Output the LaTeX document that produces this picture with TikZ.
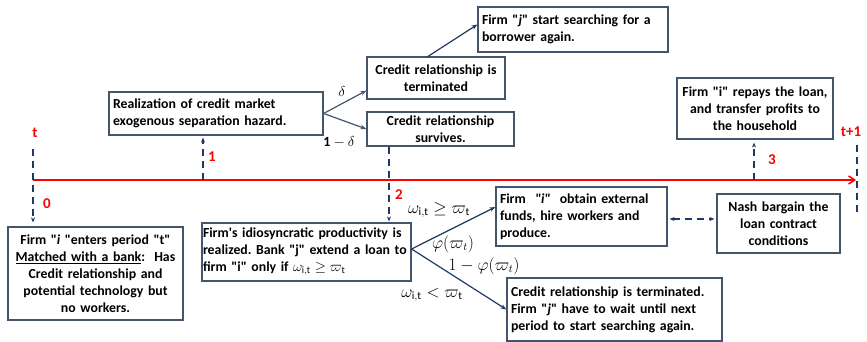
\documentclass[tikz,border=0pt]{standalone}
\usepackage{amsmath, amssymb}
\usepackage{fontspec}
\setmainfont{Carlito}[Ligatures=TeXOff]
\usetikzlibrary{positioning, arrows.meta, calc}
\definecolor{SlateBox}{HTML}{44546A}
\definecolor{NavyArr}{HTML}{1F3864}
\frenchspacing

\begin{document}
\begin{tikzpicture}[
  x=1pt, y=-1pt,
  tbox/.style={draw=SlateBox, line width=1.2pt, fill=white, align=center,
               font=\fontsize{13.8}{17}\selectfont\bfseries, inner xsep=4pt, inner ysep=2pt},
  tboxl/.style={tbox, align=left},
  dasharr/.style={-{Stealth[length=5pt, width=4pt]}, NavyArr, line width=1.6pt,
                  dash pattern=on 7pt off 5pt},
  dashline/.style={NavyArr, line width=1.6pt, dash pattern=on 7pt off 5pt},
  brarr/.style={-{Stealth[length=6pt]}, SlateBox, line width=1.2pt},
  nvarr/.style={-{Stealth[length=6pt]}, NavyArr, line width=1.2pt},
  tlab/.style={text=red, font=\fontsize{15}{15}\selectfont\bfseries, inner sep=1pt},
  mlab/.style={font=\fontsize{16}{16}\selectfont, inner sep=1pt},
  slab/.style={font=\fontsize{14}{14}\selectfont, inner sep=1pt},
]
  \useasboundingbox (0,0) rectangle (867,342);

  % time line
  \coordinate (t0) at (33,180);
  \coordinate (t1) at (856,180);
  \draw[red, line width=1.5pt, -{Straight Barb[length=6pt, width=8pt]}] (t0) -- (t1);
  \node[tlab] (tlabel) at (35,133) {t};
  \node[tlab] (t1label) at (851,132) {t+1};
  \coordinate (tend) at (857,145);
  \draw[dashline] (tend) -- ++(0,68);

  % period start
  \node[tbox, text width=167pt, minimum height=93pt] (enter) at (95.5,273.5)
    {Firm "\textit{i} "enters period "t"\\
     \underline{Matched with a bank}:~~Has\\
     Credit relationship and\\
     potential technology but\\
     no workers.};
  \coordinate (tstart) at (33,149);
  \draw[dasharr, shorten >=4pt] (tstart) -- (tstart |- enter.north);
  \node[tlab] (l0) at (47,204) {0};

  % stage 1
  \node[tboxl, text width=206pt, minimum height=43pt] (hazard) at (216,113.5)
    {Realization of credit market\\exogenous separation hazard.};
  \coordinate (m1) at (203,180);
  \draw[dasharr, shorten >=2pt] (m1) -- (m1 |- hazard.south);
  \node[tlab] (l1) at (212,157) {1};

  \node[tbox, text width=130pt, minimum height=42pt] (term) at (436,78)
    {Credit relationship is\\terminated};
  \node[tbox, text width=139pt, minimum height=34pt, inner ysep=0pt] (surv) at (440.5,129)
    {Credit relationship\\survives.};
  \node[tboxl, text width=182pt, minimum height=45pt] (search) at (573,29.5)
    {Firm "\textit{j}" start searching for a\\borrower again.};
  \draw[brarr] (hazard.east) -- ([yshift=9pt]term.south west);
  \draw[brarr] (hazard.east) -- (surv.west);
  \draw[nvarr] ([xshift=-8pt]term.north) -- ([yshift=5pt]search.west);
  \node[slab] (dlt) at (342,92) {$\delta$};
  \node[slab] (omd) at (339,142) {$\mathbf{1}-\delta$};

  % stage 2
  \node[tboxl, text width=207pt, inner xsep=1pt, minimum height=58pt] (idio) at (306.5,252)
    {Firm's idiosyncratic productivity is\\
     realized. Bank "j" extend a loan to\\
     firm "i" only if {\fontsize{14}{14}\selectfont$\omega_{\mathrm{i,t}}\geq\varpi_{\mathrm{t}}$}};
  \coordinate (m2) at (389,180);
  \draw[dasharr, shorten >=1pt] (m2 |- surv.south) -- (m2 |- idio.north);
  \node[tlab] (l2) at (399,195) {2};

  \node[tboxl, text width=163pt, minimum height=59pt] (obtain) at (581.5,216.5)
    {Firm ~\textit{"i"}~ obtain external\\funds, hire workers and\\produce.};
  \node[tbox, text width=115pt, minimum height=59pt] (nash) at (778.5,223.5)
    {Nash bargain the\\loan contract\\conditions};
  \node[tboxl, text width=207pt, minimum height=63pt] (wait) at (614.5,309.5)
    {Credit relationship is terminated.\\
     Firm "\textit{j}" have to wait until next\\
     period to start searching again.};
  \draw[nvarr] ([yshift=3pt]idio.east) -- ([yshift=9.5pt]obtain.west);
  \draw[nvarr] ([yshift=3pt]idio.east) -- (wait.west);
  \draw[dashline, {Stealth[length=5pt, width=4pt]}-{Stealth[length=5pt, width=4pt]},
        shorten <=2pt, shorten >=2pt]
    ([yshift=-2.5pt]obtain.east) -- ([yshift=-2.5pt]obtain.east -| nash.west);
  \node[mlab] (geq) at (439,210) {$\omega_{\mathrm{i,t}}\geq\varpi_{\mathrm{t}}$};
  \node[mlab] (phi) at (453,244) {$\varphi(\varpi_t)$};
  \node[mlab] (omphi) at (484,266) {$1-\varphi(\varpi_t)$};
  \node[mlab] (lt) at (432,295) {$\omega_{\mathrm{i,t}}<\varpi_{\mathrm{t}}$};

  % stage 3
  \node[tbox, text width=148pt, minimum height=61pt] (repay) at (755,108.5)
    {Firm "i" repays the loan,\\and transfer profits to\\the household};
  \coordinate (m3) at (754,180);
  \draw[dasharr, shorten >=3pt] (m3) -- (m3 |- repay.south);
  \node[tlab] (l3) at (772,160) {3};
\end{tikzpicture}
\end{document}
